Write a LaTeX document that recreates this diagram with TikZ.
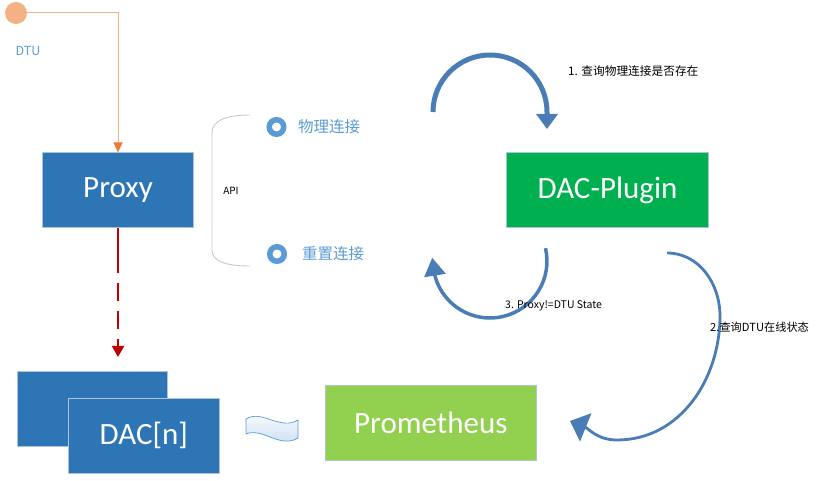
\documentclass[tikz,border=0pt]{standalone}
\usepackage{fontspec}
\setmainfont{Carlito}
\newfontfamily\cjk{Noto Sans CJK SC}
\usetikzlibrary{arrows.meta}
\definecolor{proxyblue}{HTML}{2E75B6}
\definecolor{plugingreen}{HTML}{00B050}
\definecolor{promgreen}{HTML}{92D050}
\definecolor{lightblue}{HTML}{5B9BD5}
\definecolor{arcblue}{HTML}{4A7DB5}
\definecolor{darkred}{HTML}{C00000}
\definecolor{lorange}{HTML}{F4B183}
\definecolor{dorange}{HTML}{ED7D31}
\definecolor{boxedge}{HTML}{AFC3D8}
\definecolor{bracketgray}{HTML}{C8C8C8}
\tikzset{
  x=1pt, y=1pt,
  bigbox/.style={draw=boxedge, line width=0.7pt, minimum height=75pt, inner sep=0pt,
    text=white, font=\fontsize{31}{31}\selectfont},
  small/.style={font=\cjk\fontsize{10.5}{12}\selectfont, text=black, inner sep=0pt},
  bullet/.style={circle, draw=lightblue, line width=5.5pt, fill=white, minimum size=14.5pt, inner sep=0pt},
  apitext/.style={font=\cjk\fontsize{15.5}{17}\selectfont, text=lightblue, inner sep=0pt, anchor=west},
  arcline/.style={draw=arcblue}
}
\begin{document}
\begin{tikzpicture}
\useasboundingbox (0,0) rectangle (819,481);

% DTU
\node[circle, fill=lorange, minimum size=22pt, inner sep=0pt] (dtu) at (16,468) {};
\node[font=\cjk\fontsize{12.5}{14}\selectfont, text=lightblue, inner sep=0pt] (dtulabel) at (28,430) {DTU};

% boxes
\node[bigbox, fill=proxyblue, minimum width=150.5pt] (proxy) at (118,290.7) {Proxy};
\node[bigbox, fill=plugingreen, minimum width=201.5pt] (plugin) at (607.5,290.7) {DAC-Plugin};
\node[bigbox, fill=promgreen, minimum width=211.5pt] (prom) at (430.8,58.5) {Prometheus};
\node[bigbox, fill=proxyblue, minimum width=150pt] (dacback) at (92.3,71.8) {};
\node[bigbox, fill=proxyblue, minimum width=151pt] (dacfront) at (143.8,45.2) {DAC[n]};

% DTU -> Proxy
\coordinate (corner) at (proxy.north |- dtu.east);
\draw[lorange, line width=1pt, -{Triangle[length=10pt,width=9pt,color=dorange]}]
  (dtu.east) -- (corner) -- (proxy.north);

% Proxy -> DAC dashed
\coordinate (dacarrow) at (118,124);
\draw[darkred, line width=2pt,
  dash pattern={on 45pt off 9.5pt on 18.5pt off 9.5pt on 18.5pt off 10pt on 30pt off 0pt},
  -{Triangle[length=11pt,width=12pt]}]
  (proxy.south) -- (dacarrow);

% wave between DAC and Prometheus
\shade[top color=white, bottom color=lightblue!35, draw=lightblue, line width=0.7pt]
  (246,62) .. controls (262,72) and (280,50) .. (298,61)
  -- (298,43) .. controls (280,32) and (262,54) .. (246,47) -- cycle;

% API bracket
\draw[bracketgray, line width=0.9pt]
  (250,366) .. controls (225,366) and (212,360) .. (212,348) -- (212,231)
  .. controls (212,220) and (225,215) .. (250,215);
\node[small, font=\cjk\fontsize{10}{12}\selectfont] (api) at (231,290) {API};

% bullets
\node[bullet] (b1) at (276.5,354) {};
\node[bullet] (b2) at (277,227) {};
\node[apitext] (t1) at (298,354) {物理连接};
\node[apitext] (t2) at (302,227) {重置连接};

% arc 1
\coordinate (a1s) at (433,369);
\draw[arcline, line width=5pt, -{Triangle[length=15pt,width=21pt]}]
  (a1s) arc[start angle=180, end angle=0, radius=57pt] -- ++(0,-17);
\node[small, font=\cjk\fontsize{11.7}{13}\selectfont, anchor=west] (l1) at (568,410) {1. 查询物理连接是否存在};

% arc 3
\coordinate (a3s) at (545.5,232.8);
\draw[arcline, line width=3.5pt, -{Triangle[length=18pt,width=21pt]}]
  (a3s) arc[start angle=13, end angle=-164, radius=57pt] -- ++(-3,19);
\node[small, anchor=west] (l3) at (505,175) {3. Proxy!=DTU State};

% arc 2
\coordinate (a2s) at (667,228);
\coordinate (a2r) at (720,165);
\coordinate (a2b) at (617,41);
\coordinate (a2e) at (570,60);
\draw[arcline, line width=2.8pt, -{Triangle[length=17pt,width=30pt]}]
  (a2s) to[out=0,in=90] (a2r) to[out=-90,in=0] (a2b) to[out=180,in=-22] (a2e);
\node[small, font=\cjk\fontsize{11.2}{13}\selectfont, anchor=west] (l2) at (710,154) {2.查询DTU在线状态};
\end{tikzpicture}
\end{document}
